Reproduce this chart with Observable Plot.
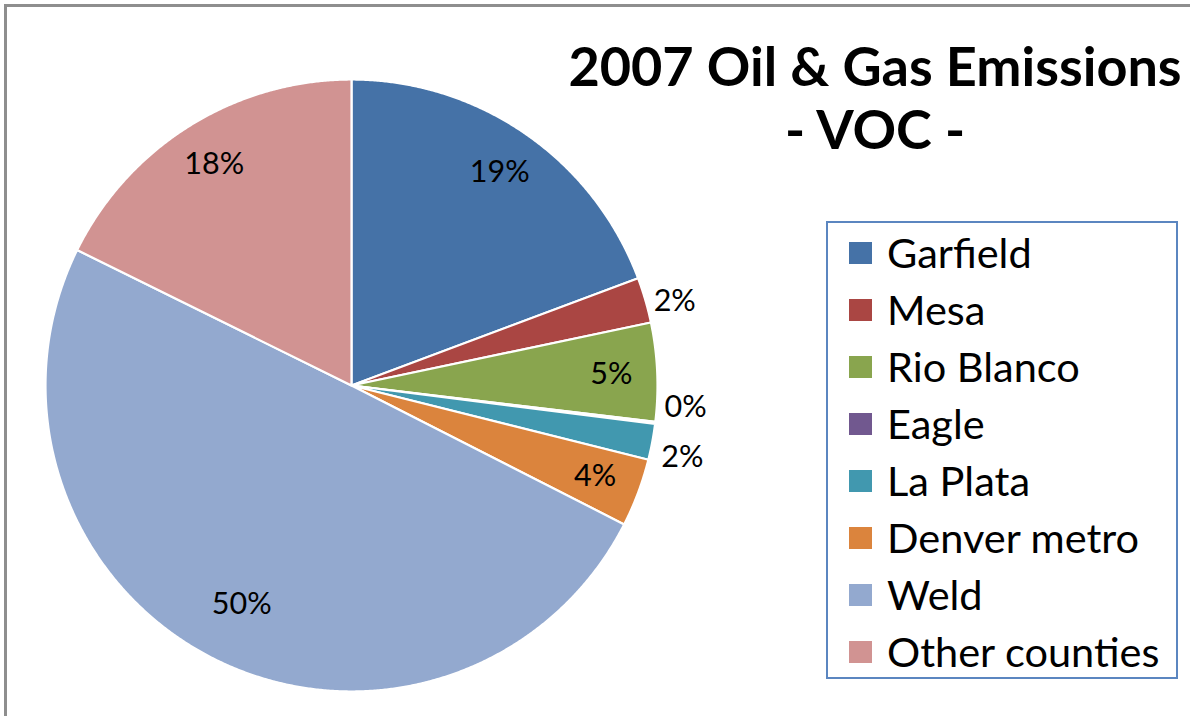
<!DOCTYPE html>
<html>
<head>
<meta charset="utf-8">
<script src="https://cdn.jsdelivr.net/npm/d3@7"></script>
<script src="https://cdn.jsdelivr.net/npm/@observablehq/plot@0.6"></script>
<style>
  html, body { margin: 0; padding: 0; background: #fff; }
  #wrap { position: relative; width: 1190px; height: 716px; overflow: hidden; font-family: Lato, "Open Sans", sans-serif; }
  #frame { position: absolute; left: 4px; top: 4px; width: 1300px; height: 800px; border-left: 3px solid #8e8e8e; border-top: 3px solid #8e8e8e; box-sizing: border-box; }
  #chart { position: absolute; left: 0; top: 0; }
  .title { position: absolute; left: 560px; width: 630px; text-align: center; font-weight: 700; font-size: 54px; color: #000; white-space: nowrap; line-height: 1; }
  #legend { position: absolute; left: 826px; top: 221px; width: 352px; height: 458px; border: 2px solid #5b86c0; box-sizing: border-box; background: #fff; }
  .item { position: absolute; left: 0; height: 57px; display: flex; align-items: center; white-space: nowrap; }
  .sw { width: 23px; height: 22px; margin-left: 21px; margin-right: 15px; }
  .lab { font-size: 41.5px; color: #000; line-height: 1; }
</style>
</head>
<body>
<div id="wrap">
  <div id="chart"></div>
  <div id="frame"></div>
  <div class="title" id="t1" style="top:39px">2007 Oil &amp; Gas Emissions</div>
  <div class="title" id="t2" style="top:102px">- VOC -</div>
  <div id="legend"></div>
</div>
<script>
// ---- data ----
const counties = ["Garfield", "Mesa", "Rio Blanco", "Eagle", "La Plata", "Denver metro", "Weld", "Other counties"];
const shares = [19.3, 2.4, 5.2, 0.1, 1.9, 3.6, 49.8, 17.7];
const colors = ["#4572A7", "#AA4643", "#89A54E", "#71588F", "#4198AF", "#DB843D", "#93A9CF", "#D19392"];

// ---- layout constants ----
const W = 1190, H = 716, R = 306, CX = 351, CY = 385;

const arcs = d3.pie().sort(null).value(d => d)(shares);

// slice polygons (unit radius, y up)
const pts = [];
arcs.forEach((a, i) => {
  const name = counties[i];
  pts.push({name, x: 0, y: 0});
  const n = Math.max(2, Math.ceil((a.endAngle - a.startAngle) / 0.005));
  for (let k = 0; k <= n; k++) {
    const t = a.startAngle + (a.endAngle - a.startAngle) * k / n;
    pts.push({name, x: Math.sin(t), y: Math.cos(t)});
  }
  pts.push({name, x: 0, y: 0});
});

// labels
const labels = arcs.map((a, i) => {
  const mid = (a.startAngle + a.endAngle) / 2;
  const inside = shares[i] >= 3;
  const r = inside ? (shares[i] > 40 ? 0.8 : 0.85) : 1.1;
  return {name: counties[i], text: Math.round(shares[i]) + "%", x: Math.sin(mid) * r, y: Math.cos(mid) * r, inside};
});
// resolve overlapping outside labels (push earlier one up)
const outs = labels.filter(d => !d.inside);
for (let k = outs.length - 2; k >= 0; k--) {
  const gap = outs[k].y - outs[k + 1].y;
  if (gap < 0.163) outs[k].y = outs[k + 1].y + 0.163;
}
const ins = labels.filter(d => d.inside);

const plot = Plot.plot({
  width: W,
  height: H,
  margin: 0,
  x: {domain: [-CX / R, (W - CX) / R], axis: null},
  y: {domain: [-(H - CY) / R, CY / R], axis: null},
  color: {domain: counties, range: colors},
  style: {fontFamily: "Lato, 'Open Sans', sans-serif", background: "transparent"},
  marks: [
    Plot.line(pts, {x: "x", y: "y", z: "name", fill: "name", stroke: "white", strokeWidth: 2.2, strokeLinejoin: "round"}),
    Plot.text(ins, {x: "x", y: "y", text: "text", fontSize: 30.5, fill: "black", textAnchor: "middle", lineAnchor: "middle"}),
    Plot.text(outs, {x: "x", y: "y", text: "text", fontSize: 30.5, fill: "black", textAnchor: "middle", lineAnchor: "middle", dy: 10})
  ]
});
document.getElementById("chart").appendChild(plot);

// legend
const lg = document.getElementById("legend");
counties.forEach((c, i) => {
  const it = document.createElement("div");
  it.className = "item";
  it.style.top = (1 + i * 57) + "px";
  const sw = document.createElement("div");
  sw.className = "sw";
  sw.style.background = colors[i];
  const lb = document.createElement("div");
  lb.className = "lab";
  lb.textContent = c;
  it.appendChild(sw); it.appendChild(lb);
  lg.appendChild(it);
});
</script>
</body>
</html>
